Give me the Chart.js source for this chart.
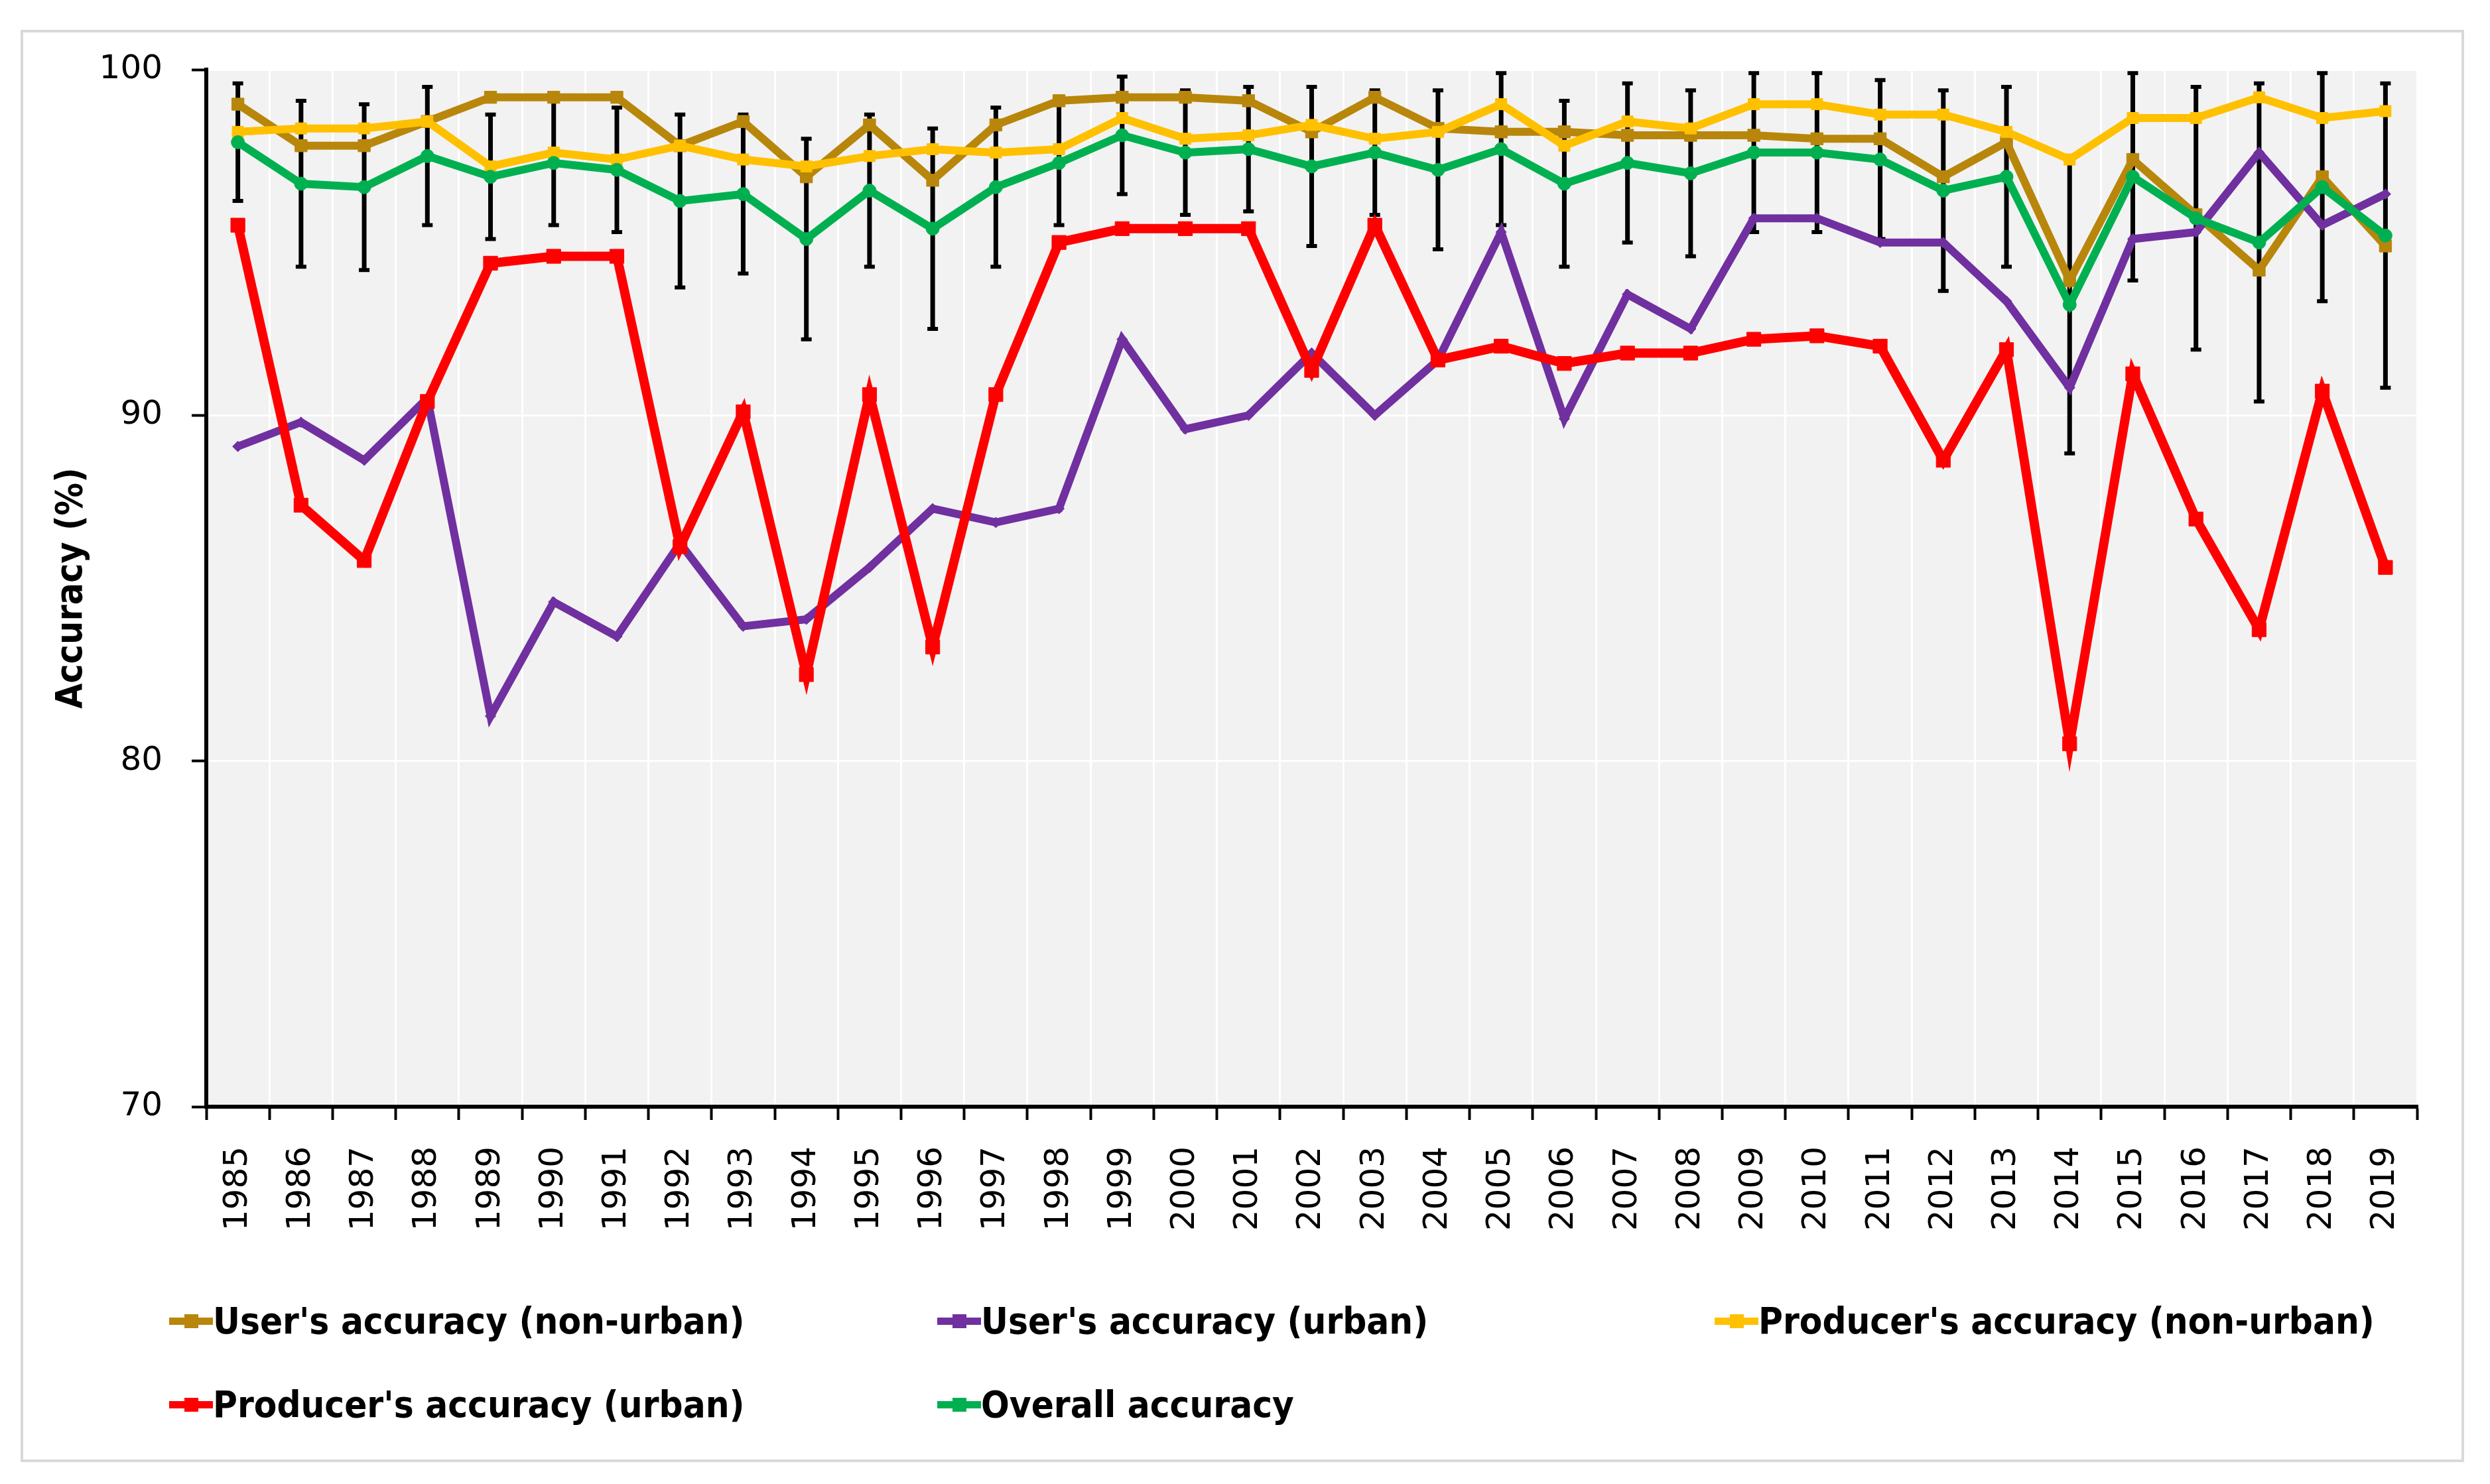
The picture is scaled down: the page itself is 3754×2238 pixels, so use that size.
<!DOCTYPE html>
<html>
<head>
<meta charset="utf-8">
<title>Accuracy 1985-2019</title>
<script src="https://cdn.jsdelivr.net/npm/chart.js@4.4.1/dist/chart.umd.min.js"></script>
<style>
    html, body { margin: 0; padding: 0; background: #fff; }
    #wrap { position: relative; width: 3754px; height: 2238px; overflow: hidden; }
    #frame { position: absolute; left: 31px; top: 45px; width: 3684px; height: 2160px; border: 4px solid #d9d9d9; box-sizing: border-box; }
    #chart { position: absolute; left: 0; top: 0; }
    #legend {
        position: absolute; left: 255px; top: 1929px;
        display: grid; grid-template-columns: 1158px 1172px auto; grid-auto-rows: 126px;
        font-family: "DejaVu Sans Condensed", "DejaVu Sans", sans-serif;
        font-stretch: condensed; font-weight: bold; font-size: 56px; color: #000;
    }
    .item { display: flex; align-items: center; line-height: 1; white-space: nowrap; }
    .swatch { position: relative; width: 66px; height: 11px; flex-shrink: 0; }
    .swatch i { position: absolute; left: 23px; top: -5px; width: 21px; height: 21px; }
</style>
</head>
<body>
<div id="wrap">
    <div id="frame"></div>
    <canvas id="chart" width="3754" height="2238"></canvas>
    <div id="legend"></div>
</div>
<script>
const years = ['1985', '1986', '1987', '1988', '1989', '1990', '1991', '1992', '1993', '1994',
    '1995', '1996', '1997', '1998', '1999', '2000', '2001', '2002', '2003', '2004',
    '2005', '2006', '2007', '2008', '2009', '2010', '2011', '2012', '2013', '2014',
    '2015', '2016', '2017', '2018', '2019'];

const usersNonUrban = [99.0, 97.8, 97.8, 98.5, 99.2, 99.2, 99.2, 97.8, 98.5, 96.9,
    98.4, 96.8, 98.4, 99.1, 99.2, 99.2, 99.1, 98.2, 99.2, 98.3,
    98.2, 98.2, 98.1, 98.1, 98.1, 98.0, 98.0, 96.9, 97.9, 93.9,
    97.4, 95.8, 94.2, 96.9, 94.9];

const usersUrban = [89.1, 89.8, 88.7, 90.5, 81.3, 84.6, 83.6, 86.3, 83.9, 84.1,
    85.6, 87.3, 86.9, 87.3, 92.2, 89.6, 90.0, 91.8, 90.0, 91.6,
    95.3, 89.9, 93.5, 92.5, 95.7, 95.7, 95.0, 95.0, 93.3, 90.8,
    95.1, 95.3, 97.6, 95.5, 96.4];

const producersNonUrban = [98.2, 98.3, 98.3, 98.5, 97.2, 97.6, 97.4, 97.8, 97.4, 97.2,
    97.5, 97.7, 97.6, 97.7, 98.6, 98.0, 98.1, 98.4, 98.0, 98.2,
    99.0, 97.8, 98.5, 98.3, 99.0, 99.0, 98.7, 98.7, 98.2, 97.4,
    98.6, 98.6, 99.2, 98.6, 98.8];

const producersUrban = [95.5, 87.4, 85.8, 90.4, 94.4, 94.6, 94.6, 86.2, 90.1, 82.5,
    90.6, 83.3, 90.6, 95.0, 95.4, 95.4, 95.4, 91.3, 95.5, 91.6,
    92.0, 91.5, 91.8, 91.8, 92.2, 92.3, 92.0, 88.7, 91.9, 80.5,
    91.2, 87.0, 83.8, 90.7, 85.6];

const overall = [97.9, 96.7, 96.6, 97.5, 96.9, 97.3, 97.1, 96.2, 96.4, 95.1,
    96.5, 95.4, 96.6, 97.3, 98.1, 97.6, 97.7, 97.2, 97.6, 97.1,
    97.7, 96.7, 97.3, 97.0, 97.6, 97.6, 97.4, 96.5, 96.9, 93.2,
    96.9, 95.7, 95.0, 96.6, 95.2];

// +/- error of overall accuracy
const overallError = [1.7, 2.4, 2.4, 2.0, 1.8, 1.8, 1.8, 2.5, 2.3, 2.9,
    2.2, 2.9, 2.3, 1.8, 1.7, 1.8, 1.8, 2.3, 1.8, 2.3,
    2.2, 2.4, 2.3, 2.4, 2.3, 2.3, 2.3, 2.9, 2.6, 4.3,
    3.0, 3.8, 4.6, 3.3, 4.4];

const yTicks = [70, 80, 90, 100];

const TICK_FONT = { family: '"DejaVu Sans", Verdana, sans-serif', size: 50 };

// gray plot background
const plotBackground = {
    id: 'plotBackground',
    beforeDraw(chart) {
        const { ctx, chartArea: a } = chart;
        ctx.save();
        ctx.fillStyle = '#f2f2f2';
        ctx.fillRect(a.left, a.top, a.right - a.left, a.bottom - a.top);
        ctx.restore();
    }
};

// error bars on overall accuracy, under the lines
const errorBars = {
    id: 'errorBars',
    beforeDatasetsDraw(chart) {
        const idx = chart.data.datasets.findIndex(d => d.label === 'Overall accuracy');
        const meta = chart.getDatasetMeta(idx);
        const y = chart.scales.y;
        const ctx = chart.ctx;
        ctx.save();
        ctx.strokeStyle = '#000';
        meta.data.forEach((pt, i) => {
            const v = overall[i], e = overallError[i];
            const top = y.getPixelForValue(v + e);
            const bot = y.getPixelForValue(v - e);
            ctx.lineWidth = 7;
            ctx.beginPath();
            ctx.moveTo(pt.x, top);
            ctx.lineTo(pt.x, bot);
            ctx.stroke();
            ctx.lineWidth = 6;
            ctx.beginPath();
            ctx.moveTo(pt.x - 8, top); ctx.lineTo(pt.x + 8, top);
            ctx.moveTo(pt.x - 8, bot); ctx.lineTo(pt.x + 8, bot);
            ctx.stroke();
        });
        ctx.restore();
    }
};

function series(label, data, color, style, radius, width, order) {
    return {
        label, data, order,
        borderColor: color,
        backgroundColor: color,
        borderWidth: width,
        pointStyle: style,
        pointRadius: radius,
        pointBackgroundColor: color,
        pointBorderColor: color,
        pointBorderWidth: 1,
        tension: 0
    };
}

const hideFirst = c => c.index === 0 ? 'rgba(0,0,0,0)' : '#ffffff';

const chart = new Chart(document.getElementById('chart'), {
    type: 'line',
    data: {
        labels: years,
        datasets: [
            series("User's accuracy (non-urban)", usersNonUrban, '#B8860B', 'rect', 13, 12, 5),
            series("User's accuracy (urban)", usersUrban, '#7030A0', 'rectRot', 8, 12, 4),
            series("Producer's accuracy (non-urban)", producersNonUrban, '#FFC000', 'rect', 12, 12, 3),
            series("Producer's accuracy (urban)", producersUrban, '#FF0000', 'rect', 15, 14, 2),
            series('Overall accuracy', overall, '#00B050', 'circle', 10, 12, 1)
        ]
    },
    options: {
        responsive: false,
        animation: false,
        devicePixelRatio: 1,
        layout: { padding: { left: 0, top: 105, right: 110, bottom: 0 } },
        plugins: {
            legend: { display: false },
            tooltip: { enabled: false }
        },
        scales: {
            x: {
                offset: true,
                grid: {
                    offset: true, color: hideFirst, lineWidth: 3,
                    drawTicks: true, tickLength: 20, tickColor: '#000', tickWidth: 4
                },
                border: { display: true, color: '#000', width: 6 },
                ticks: {
                    autoSkip: false, minRotation: 90, maxRotation: 90,
                    padding: 40, color: '#000', font: TICK_FONT
                },
                afterFit: s => { s.height = 569; s.paddingLeft = 0; s.paddingRight = 0; }
            },
            y: {
                min: yTicks[0],
                max: yTicks[yTicks.length - 1],
                grid: {
                    color: hideFirst, lineWidth: 3,
                    drawTicks: true, tickLength: 22, tickColor: '#000', tickWidth: 4
                },
                border: { display: true, color: '#000', width: 6 },
                ticks: {
                    stepSize: yTicks[1] - yTicks[0],
                    padding: 44, color: '#000', font: TICK_FONT
                },
                title: {
                    display: true, text: 'Accuracy (%)', color: '#000',
                    font: { family: '"DejaVu Sans Condensed", "DejaVu Sans", sans-serif', size: 55, weight: 'bold' },
                    padding: { top: 76, bottom: 0 }
                },
                afterFit: s => { s.width = 311; s.paddingTop = 0; s.paddingBottom = 0; }
            }
        }
    },
    plugins: [plotBackground, errorBars]
});

// legend in the same order as the series, three columns
const legendEl = document.getElementById('legend');
legendEl.innerHTML = chart.data.datasets.map(ds =>
    `<div class="item"><span class="swatch" style="background:${ds.borderColor}"><i style="background:${ds.borderColor}"></i></span><span>${ds.label}</span></div>`
).join('');
</script>
</body>
</html>
